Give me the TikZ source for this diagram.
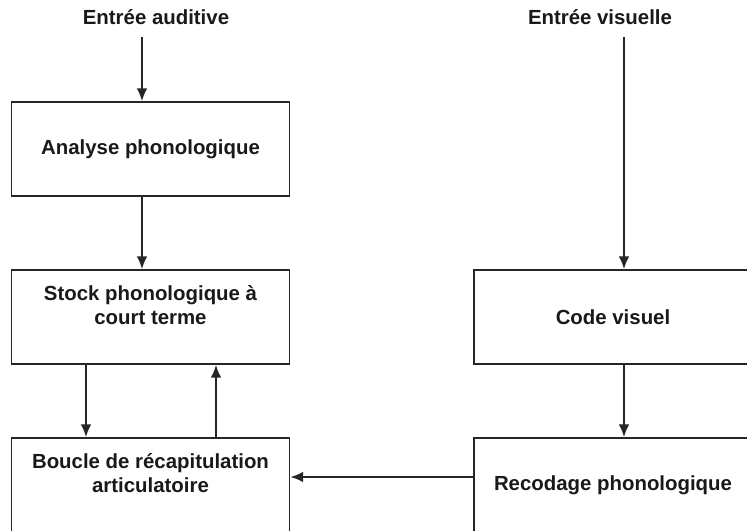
\documentclass[tikz,border=0pt]{standalone}
\usepackage{fontspec}
\setmainfont{Liberation Sans}
\usetikzlibrary{arrows.meta}
\newcommand{\blocw}{208.5pt}
\newcommand{\bloch}{70.5pt}
\newcommand{\traits}{1.4pt}
\tikzset{
  bloc/.style={draw=black!85, line width=\traits, minimum width=\blocw, minimum height=\bloch,
    inner sep=0pt, align=center, text=black!90, font=\bfseries\fontsize{15.3}{18}\selectfont},
  entree/.style={anchor=base, text=black!90, font=\bfseries\fontsize{15.3}{18}\selectfont,
    text height=11pt, text depth=3pt, inner xsep=2pt, inner ysep=6pt},
  fleche/.style={line width=\traits, draw=black!85, -{Latex[length=9.5pt,width=8pt]}}
}

\begin{document}
\begin{tikzpicture}[x=0.75pt,y=-0.75pt]
        \useasboundingbox (0,0) rectangle (747,531);
        \clip (0,0) rectangle (747,531);
        \begin{scope}
            %\draw[help lines] (0,0) grid (747,531);
            % entrees
            \node[entree] (inA) at (156,25) {Entrée auditive};
            \node[entree] (inV) at (600,25) {Entrée visuelle};

            % boites de gauche
            \node[bloc] (analyse) at (150.5,149) {Analyse phonologique};
            \node[bloc] (stock) at (150.5,317) {Stock phonologique à\\court terme\\\mbox{}};
            \node[bloc] (boucle) at (150.5,485) {Boucle de récapitulation\\articulatoire\\\mbox{}};

            % boites de droite
            \node[bloc] (code) at (613,317) {Code visuel};
            \node[bloc] (recodage) at (613,485) {Recodage phonologique};

            \coordinate (xa) at (142,0);
            \coordinate (xd) at (86,0);
            \coordinate (xu) at (216,0);
            \coordinate (xv) at (624,0);
            \coordinate (yh) at (0,477);

            \draw[fleche] (inA.south -| xa) -- (analyse.north -| xa);
            \draw[fleche] (analyse.south -| xa) -- (stock.north -| xa);
            \draw[fleche] (stock.south -| xd) -- (boucle.north -| xd);
            \draw[fleche] (boucle.north -| xu) -- (stock.south -| xu);

            \draw[fleche] (inV.south -| xv) -- (code.north -| xv);
            \draw[fleche] (code.south -| xv) -- (recodage.north -| xv);
            \draw[fleche] (recodage.west |- yh) -- (boucle.east |- yh);
        \end{scope}
    \end{tikzpicture}
\end{document}
